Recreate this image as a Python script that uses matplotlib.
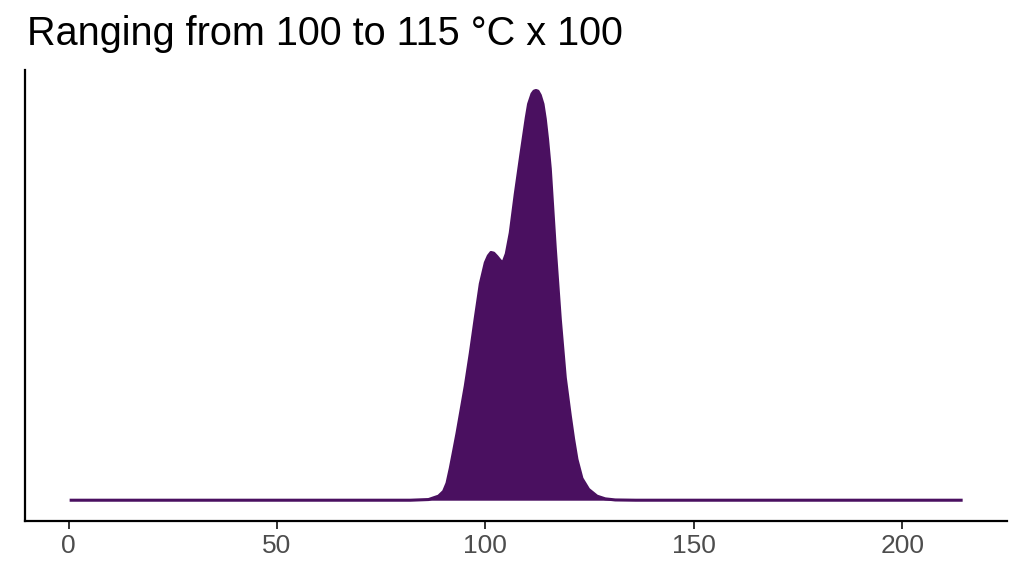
import matplotlib
matplotlib.use("Agg")
import matplotlib.pyplot as plt

# density curve (temperature, density)
temp = [0.24, 40.0, 82.0, 86.36, 88.76, 89.96, 90.78, 91.57, 92.36, 93.17, 93.97,
        95.17, 96.37, 97.57, 98.77, 99.97, 100.69, 101.33, 102.0, 102.77, 103.56,
        104.21, 105.0, 105.96, 107.16, 108.48, 109.15, 109.80, 110.35, 111.17,
        111.65, 112.13, 112.61, 113.16, 113.81, 114.36, 114.91, 115.56, 116.76,
        117.96, 119.16, 120.36, 121.15, 121.96, 123.16, 124.75, 126.76, 128.75,
        131.15, 136.0, 170.0, 214.5]
density = [0.0, 0.0, 0.0, 0.0001, 0.0006, 0.0013, 0.0025, 0.0047, 0.0072, 0.0098,
           0.0126, 0.0168, 0.0216, 0.0268, 0.0318, 0.0349, 0.0359, 0.0364, 0.0363,
           0.0358, 0.0352, 0.0349, 0.0362, 0.0393, 0.0450, 0.0507, 0.0535, 0.0562,
           0.0582, 0.0597, 0.0601, 0.0602, 0.0601, 0.0595, 0.0582, 0.0560, 0.0530,
           0.0487, 0.0370, 0.0266, 0.0180, 0.0124, 0.0090, 0.0060, 0.0032, 0.0016,
           0.0006, 0.0002, 0.00004, 0.0, 0.0, 0.0]
x_ticks = [0, 50, 100, 150, 200]
title = "Ranging from 100 to 115 °C x 100"

fill_col = "#4a1060"

plt.rcParams['font.family'] = ['Liberation Sans', 'DejaVu Sans']

fig = plt.figure(figsize=(10.24, 5.76), dpi=100)
ax = fig.add_axes([0.0244, 0.096, 0.9593, 0.7825])

ax.fill_between(temp, density, 0, color=fill_col, linewidth=0)
ax.plot(temp, density, color=fill_col, linewidth=2.2, solid_capstyle='butt',
        solid_joinstyle='round')

# ggplot style 5% expansion
xmin, xmax = min(temp), max(temp)
ymax = max(density)
ax.set_xlim(xmin - 0.05 * (xmax - xmin), xmax + 0.05 * (xmax - xmin))
ax.set_ylim(-0.05 * ymax, ymax * 1.05)

ax.set_xticks(x_ticks)
ax.set_xticklabels([str(t) for t in x_ticks])
ax.set_yticks([])
ax.tick_params(axis='x', length=5.5, width=1.4, color='#333333',
               labelsize=19, labelcolor='#4d4d4d', pad=4)

for s in ['top', 'right']:
    ax.spines[s].set_visible(False)
for s in ['left', 'bottom']:
    ax.spines[s].set_linewidth(1.6)
    ax.spines[s].set_color('black')

fig.text(0.026, 1 - 45 / 576, title, fontsize=28.5, va='baseline', ha='left',
         color='black')

fig.savefig("out.png", dpi=100)
